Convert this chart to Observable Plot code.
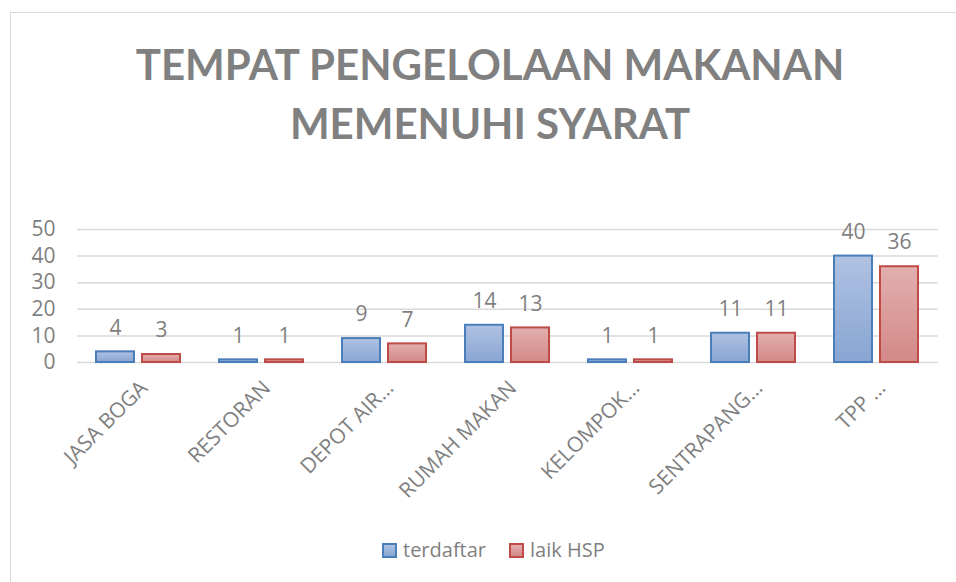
<!DOCTYPE html>
<html><head><meta charset="utf-8">
<script src="https://cdn.jsdelivr.net/npm/d3@7"></script>
<script src="https://cdn.jsdelivr.net/npm/@observablehq/plot@0.6"></script>
<style>
html,body{margin:0;padding:0;background:#fff}
body{width:956px;height:582px;overflow:hidden;position:relative;font-family:"Open Sans",sans-serif}
#frame{position:absolute;left:10px;top:12px;width:960px;height:600px;border:1.5px solid #d9d9d9;box-sizing:border-box}
#title{position:absolute;left:0;width:980px;top:35px;text-align:center;font-family:Lato,"Open Sans",sans-serif;font-weight:bold;font-size:42px;line-height:59px;color:#808080}
#chart{position:absolute;left:0;top:0}
#legend{position:absolute;left:382px;top:538px;display:flex;align-items:center;font-size:20px;color:#7f7f7f;line-height:24px}
.sw{width:15px;height:15px;box-sizing:border-box;border:2px solid;margin-right:6px}
.item{display:flex;align-items:center;margin-right:23px}
</style>
</head><body>
<div id="frame"></div>
<div id="title">TEMPAT PENGELOLAAN MAKANAN<br>MEMENUHI SYARAT</div>
<div id="chart"></div>
<div id="legend"></div>
<script>
const categories = ["JASA BOGA","RESTORAN","DEPOT AIR…","RUMAH MAKAN","KELOMPOK…","SENTRAPANG…","TPP …"];
const seriesNames = ["terdaftar","laik HSP"];
const terdaftar = [4,1,9,14,1,11,40];
const laikHSP = [3,1,7,13,1,11,36];
const yTicks = [0,10,20,30,40,50];

const seriesValues = [terdaftar, laikHSP];
const fills = ["url(#gBlue)","url(#gRed)"];
const strokes = ["#4a7ebb","#be4b48"];
const data = [];
seriesNames.forEach((s,i) => categories.forEach((c,j) => data.push({cat:c, series:s, value:seriesValues[i][j]})));

const barMarks = seriesNames.map((s,i) => Plot.barY(data.filter(d=>d.series===s), {
  fx:"cat", x:"series", y:"value", fill:fills[i], stroke:strokes[i], strokeWidth:2
}));

const plot = Plot.plot({
  width:956, height:520,
  marginTop:229, marginBottom:158, marginLeft:74, marginRight:15,
  style:{fontFamily:"'Open Sans', sans-serif", fontSize:"21px", color:"#7f7f7f", background:"transparent", overflow:"visible"},
  fx:{domain:categories, padding:0, label:null},
  x:{domain:seriesNames, paddingInner:0.17, paddingOuter:0.404, axis:null},
  y:{domain:[0,50], label:null},
  marks:[
    Plot.gridY(yTicks, {stroke:"#d9d9d9", strokeOpacity:1, strokeWidth:1.5}),
    Plot.axisY(yTicks, {tickSize:0, tickPadding:22, label:null, fontSize:21, fill:"#7f7f7f"}),
    Plot.axisFx({anchor:"bottom", tickRotate:-45, tickSize:0, tickPadding:22, textAnchor:"end", lineAnchor:"middle", dx:5, label:null, fontSize:21, fill:"#7f7f7f"}),
    ...barMarks,
    Plot.text(data, {fx:"cat", x:"series", y:"value", text:d=>String(d.value), dy:-24, fontSize:21, fill:"#7f7f7f"})
  ]
});
const svg = d3.select(plot);
const defs = svg.insert("defs", ":first-child");
function grad(id, top, bottom){
  const g = defs.append("linearGradient").attr("id", id).attr("x1",0).attr("y1",0).attr("x2",0).attr("y2",1);
  g.append("stop").attr("offset","0%").attr("stop-color",top);
  g.append("stop").attr("offset","100%").attr("stop-color",bottom);
}
grad("gBlue","#afc2e2","#89a5d3");
grad("gRed","#e2afae","#d38987");
document.getElementById("chart").appendChild(plot);

const legend = d3.select("#legend");
const swFills = ["linear-gradient(#afc2e2,#89a5d3)","linear-gradient(#e2afae,#d38987)"];
seriesNames.forEach((s,i) => {
  const it = legend.append("div").attr("class","item");
  it.append("div").attr("class","sw").style("border-color",strokes[i]).style("background",swFills[i]);
  it.append("span").text(s);
});
</script>
</body></html>
